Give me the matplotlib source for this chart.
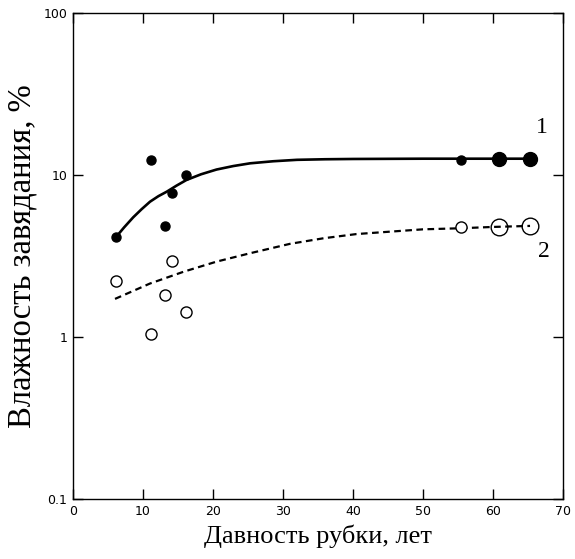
import matplotlib
matplotlib.use("Agg")
import matplotlib.pyplot as plt

# Series 1 (filled circles)
x1_small = [6.2, 11.1, 13.2, 14.2, 16.1, 55.4]
y1_small = [4.12, 12.3, 4.85, 7.7, 10.0, 12.4]
x1_large = [60.9, 65.3]
y1_large = [12.6, 12.6]

# Series 2 (open circles)
x2_small = [6.2, 11.1, 13.2, 14.2, 16.1, 55.4]
y2_small = [2.23, 1.04, 1.82, 2.96, 1.43, 4.76]
x2_large = [60.9, 65.3]
y2_large = [4.8, 4.85]

# Fitted curves
cx1 = [6.1, 7.3, 8.6, 9.8, 11.0, 12.2, 13.4, 14.8, 16.2, 18.3, 20.5, 22.9, 25.3, 28.6, 32.0, 36.0, 40.0, 50.0, 60.0, 65.3]
cy1 = [4.12, 4.75, 5.48, 6.15, 6.84, 7.4, 7.89, 8.6, 9.31, 10.1, 10.8, 11.35, 11.8, 12.15, 12.4, 12.5, 12.55, 12.6, 12.6, 12.6]
cx2 = [6.0, 11.0, 15.8, 20.5, 25.3, 31.0, 35.8, 40.5, 45.3, 50.0, 55.3, 60.0, 65.3]
cy2 = [1.72, 2.14, 2.53, 2.92, 3.29, 3.76, 4.07, 4.32, 4.47, 4.62, 4.69, 4.78, 4.85]

xticks = [0, 10, 20, 30, 40, 50, 60, 70]
yticks = [0.1, 1, 10, 100]
ytick_labels = ["0.1", "1", "10", "100"]

fig = plt.figure(figsize=(5.75, 5.59), dpi=100)
ax = fig.add_axes([0.127, 0.107, 0.852, 0.870])

ax.plot(cx1, cy1, color="black", lw=1.9, solid_capstyle="butt")
ax.plot(cx2, cy2, color="black", lw=1.6, linestyle=(0, (3, 2)))

ax.plot(x1_small, y1_small, "o", color="black", ms=6.5, ls="none")
ax.plot(x1_large, y1_large, "o", color="black", ms=10, ls="none")
ax.plot(x2_small, y2_small, "o", mfc="white", mec="black", mew=1.0, ms=8, ls="none")
ax.plot(x2_large, y2_large, "o", mfc="none", mec="black", mew=1.0, ms=12, ls="none")

ax.set_yscale("log")
ax.set_xlim(0, 70)
ax.set_ylim(0.1, 100)
ax.set_xticks(xticks)
ax.set_xticklabels([str(t) for t in xticks])
ax.set_yticks(yticks)
ax.set_yticklabels(ytick_labels)
ax.minorticks_off()
ax.yaxis.set_minor_locator(matplotlib.ticker.NullLocator())

ax.tick_params(direction="in", length=7, width=1, top=True, right=True,
               labelsize=9, pad=4)
for s in ax.spines.values():
    s.set_linewidth(1.0)

ax.text(67.0, 19.5, "1", fontsize=17, family="Liberation Serif", ha="center", va="center")
ax.text(67.3, 3.35, "2", fontsize=17, family="Liberation Serif", ha="center", va="center")

ax.set_xlabel("Давность рубки, лет", fontsize=19, family="Liberation Serif", labelpad=5)
ax.set_ylabel("Влажность завядания, %", fontsize=23.5, family="Liberation Serif")
ax.yaxis.set_label_coords(-0.072, 0.5)

fig.savefig("out.png", dpi=100, facecolor="white")
